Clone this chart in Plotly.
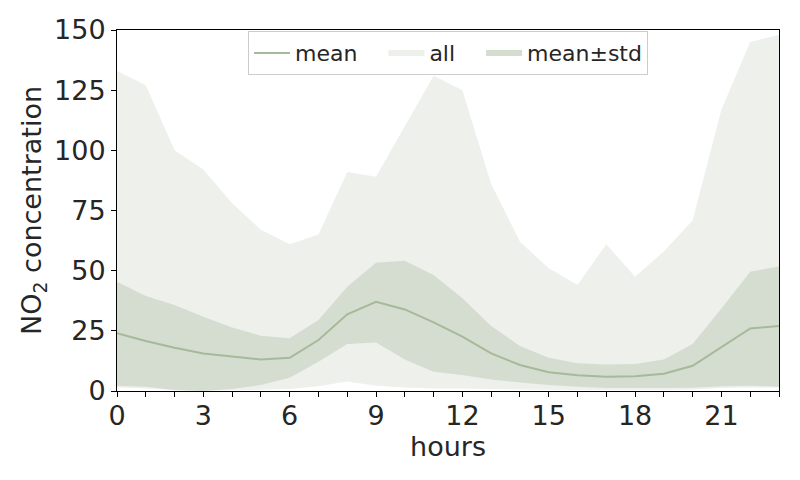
import plotly.graph_objects as go

hours = list(range(24))
all_max = [133, 127, 100, 92, 78, 67, 61, 65, 91, 89, 110, 131, 125, 86, 62, 51, 44, 61, 47.5, 58, 71, 117, 145, 148]
all_min = [1.5, 1, 0.3, 0.2, 0.3, 0.5, 0.8, 2, 3.9, 2.2, 1.5, 1, 1, 0.8, 0.6, 0.5, 0.4, 0.4, 0.3, 0.4, 0.6, 1.2, 1.5, 1.5]
mean = [24, 20.8, 18, 15.6, 14.3, 13.1, 13.8, 21.2, 31.9, 37.1, 33.9, 28.5, 22.6, 15.6, 10.8, 7.8, 6.5, 5.9, 6.1, 7.2, 10.5, 18.4, 26, 27]
std_upper = [45.4, 39.5, 35.7, 30.9, 26.4, 23, 21.9, 29.5, 43.3, 53.3, 54.1, 48.2, 38.5, 27, 18.7, 13.8, 11.5, 11, 11.2, 13.1, 19.5, 34.3, 49.6, 51.7]
std_lower = [2.2, 1.8, 0.4, 0, 0.8, 2.5, 5.5, 12.2, 19.5, 20.2, 13.1, 8, 6.6, 4.8, 3.5, 2.5, 1.8, 1.2, 1.2, 1.2, 1.4, 2, 2.2, 1.8]

xticks = list(range(0, 24, 3))
yticks = [0, 25, 50, 75, 100, 125, 150]
pad = "\u00a0\u00a0\u00a0"

fig = go.Figure()
fig.add_trace(go.Scatter(
    x=hours + hours[::-1], y=all_max + all_min[::-1],
    fill="toself", mode="none", fillcolor="#eef0eb",
    name="all" + pad, legendrank=2, hoverinfo="skip"))
fig.add_trace(go.Scatter(
    x=hours + hours[::-1], y=std_upper + std_lower[::-1],
    fill="toself", mode="none", fillcolor="#d5ddd1",
    name="mean±std", legendrank=3, hoverinfo="skip"))
fig.add_trace(go.Scatter(
    x=hours, y=mean, mode="lines", line=dict(color="#a6b998", width=2),
    name="mean" + pad, legendrank=1))

fig.update_layout(
    width=800, height=480,
    margin=dict(l=109, r=29, t=22, b=97, autoexpand=False),
    paper_bgcolor="white", plot_bgcolor="white",
    font=dict(family="DejaVu Sans", color="#262626", size=27),
    legend=dict(orientation="h", x=0.5, xanchor="center", y=0.997, yanchor="top",
                bgcolor="rgba(255,255,255,0.8)", bordercolor="#cccccc", borderwidth=1,
                font=dict(size=22), itemwidth=36, tracegroupgap=0),
    showlegend=True,
)
fig.update_xaxes(
    range=[0, 23], tickvals=xticks, ticktext=[str(v) for v in xticks],
    ticks="outside", ticklen=5, tickcolor="black", tickfont=dict(size=27),
    ticklabelstandoff=-4,
    minor=dict(dtick=1, tick0=0, ticks="outside", ticklen=5, tickcolor="black"),
    showline=True, linecolor="black", linewidth=1, mirror=True,
    showgrid=False, zeroline=False, automargin=False,
    title=dict(text="hours", font=dict(size=27), standoff=2))
fig.update_yaxes(
    range=[0, 150], tickvals=yticks,
    ticks="outside", ticklen=5, tickcolor="black", tickfont=dict(size=27),
    showline=True, linecolor="black", linewidth=1, mirror=True,
    showgrid=False, zeroline=False, automargin=False,
    title=dict(text="NO<sub>2</sub> concentration", font=dict(size=27), standoff=4))

fig.write_html("out.html")
